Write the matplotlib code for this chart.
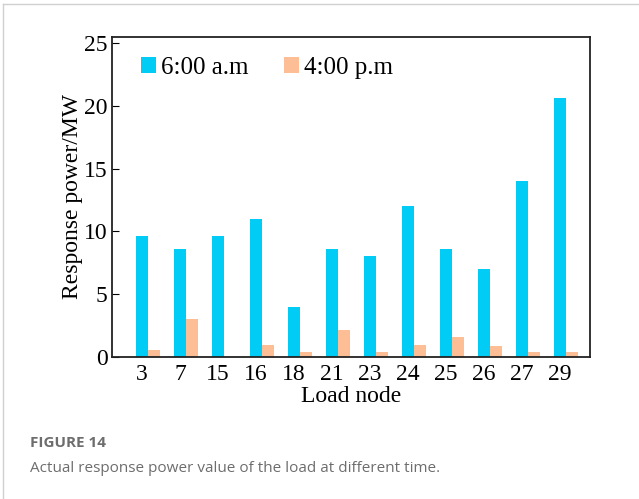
import matplotlib.pyplot as plt
import numpy as np
from matplotlib.lines import Line2D

# load nodes and response power (MW)
NODES = ['3', '7', '15', '16', '18', '21', '23', '24', '25', '26', '27', '29']
AM_6 = [9.6, 8.6, 9.6, 11.0, 4.0, 8.6, 8.0, 12.0, 8.6, 7.0, 14.0, 20.65]
PM_4 = [0.55, 3.0, 0.0, 0.95, 0.4, 2.15, 0.4, 0.95, 1.6, 0.9, 0.4, 0.4]

COL_AM = '#00CCF5'
COL_PM = '#FDBE96'

plt.rcParams['font.family'] = 'Liberation Serif'

fig = plt.figure(figsize=(6.39, 4.99), dpi=100)
ax = fig.add_axes([0.175, 0.2846, 0.749, 0.642])

x = np.arange(len(NODES))
w = 0.316
ax.bar(x, AM_6, width=w, color=COL_AM, label='6:00 a.m')
ax.bar(x + w, PM_4, width=w, color=COL_PM, label='4:00 p.m')

ax.set_xlim(-0.8, 11.8)
ax.set_ylim(0, 25.5)
ax.set_yticks([0, 5, 10, 15, 20, 25])
ax.set_xticks(x)
ax.set_xticklabels(NODES)
ax.tick_params(axis='x', length=0, labelsize=17, pad=5)
ax.tick_params(axis='y', direction='in', length=5, labelsize=17, pad=3)
for s in ax.spines.values():
    s.set_linewidth(1.3)
    s.set_color('#222222')

ax.set_xlabel('Load node', fontsize=17, labelpad=1)
ax.set_ylabel('Response power/MW', fontsize=17, labelpad=1)

ax.legend(loc='upper left', ncol=2, frameon=False, fontsize=18,
          handlelength=0.6, handleheight=0.6, handletextpad=0.2,
          columnspacing=1.4, bbox_to_anchor=(0.02, 1.0), borderaxespad=0.4)

# page border lines
fig.add_artist(Line2D([3 / 639, 3 / 639], [0.0, 1 - 4 / 499], transform=fig.transFigure,
                      color='#d0d0d0', lw=1))
fig.add_artist(Line2D([3 / 639, 1.0], [1 - 4 / 499, 1 - 4 / 499], transform=fig.transFigure,
                      color='#d0d0d0', lw=1))

fig.text(30 / 639, 1 - 443 / 499, 'FIGURE 14', family='Open Sans', fontweight='bold',
         fontsize=11, color='#6d6d6d', va='center')
fig.text(30 / 639, 1 - 468 / 499, 'Actual response power value of the load at different time.',
         family='Open Sans', fontsize=11, color='#6d6d6d', va='center')

fig.savefig('out.png', dpi=100)
